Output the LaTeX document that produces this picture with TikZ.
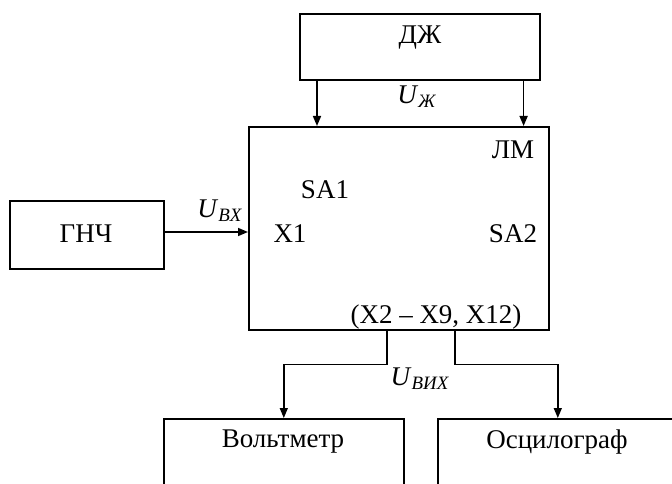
\documentclass[tikz,border=0pt]{standalone}
\usepackage{fontspec}
\setmainfont{Liberation Serif}
\usetikzlibrary{arrows.meta,calc}
\begin{document}
\begin{tikzpicture}[x=1pt,y=-1pt,
  box/.style={draw,line width=1.6pt,inner sep=0pt,anchor=north west},
  arr/.style={line width=1.5pt,-{Triangle[length=10pt,width=8pt]}},
  txt/.style={font=\fontsize{27}{30}\selectfont,inner sep=0pt}]
\useasboundingbox (0,0) rectangle (672,484);
\clip (0,0) rectangle (672,484);
\node[box,minimum width=240,minimum height=66] (dzh) at (299,13) {};
\node[txt] (dzhl) at (420,38) {ДЖ};
\node[box,minimum width=300,minimum height=203] (main) at (248,126) {};
\node[box,minimum width=154,minimum height=68] (gnch) at (9,200) {};
\node[txt] (gnchl) at (86,234) {ГНЧ};
\node[box,minimum width=240,minimum height=130] (volt) at (163,418) {};
\node[txt] (voltl) at (283,442) {Вольтметр};
\node[box,minimum width=240,minimum height=130] (osc) at (437,418) {};
\node[txt] (oscl) at (557,442) {Осцилограф};
% arrows
\draw[arr] ([xshift=18]dzh.south west) -- ([xshift=18]dzh.south west |- main.north);
\draw[arr] ([xshift=-17]dzh.south east) -- ([xshift=-17]dzh.south east |- main.north);
\draw[arr] (gnch.east |- 0,232) -- (main.west |- 0,232);
\coordinate (o1) at ([xshift=139]main.south west);
\coordinate (o2) at ([xshift=207]main.south west);
\draw[arr] (o1) -- ++(0,34) -| (volt.north);
\draw[arr] (o2) -- ++(0,34) -| (osc.north);
% labels
\node[txt] (uzh) at (417,97) {\textit{U}\textsubscript{\textit{Ж}}};
\node[txt] (ubx) at (220,211) {\textit{U}\textsubscript{\textit{BX}}};
\node[txt] (uvyx) at (420,379) {\textit{U}\textsubscript{\textit{BИX}}};
\node[txt] (lm) at (513,150) {ЛМ};
\node[txt] (sa1) at (325,190) {SA1};
\node[txt] (x1) at (290,234) {X1};
\node[txt] (sa2) at (513,234) {SA2};
\node[txt,anchor=south] (xs) at (436,329) {(X2 – X9, X12)};
\end{tikzpicture}
\end{document}
